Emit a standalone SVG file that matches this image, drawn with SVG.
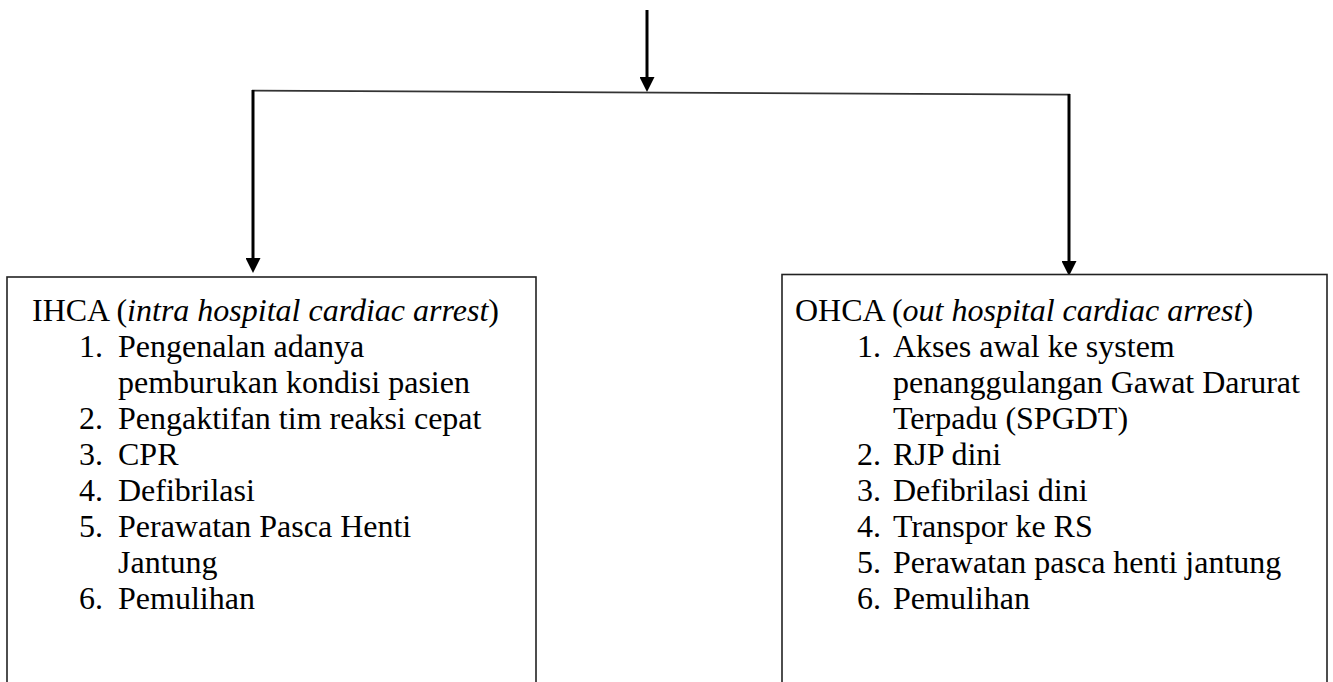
<svg xmlns="http://www.w3.org/2000/svg" width="1333" height="682" viewBox="0 0 1333 682">
<style>
.box{fill:#fff;stroke:#222;stroke-width:1.6}
.t{font-family:"Liberation Serif","Times New Roman",serif;font-size:32px;fill:#000}
.it{font-style:italic}
.v{stroke:#000;stroke-width:3;fill:none}
.h{stroke:#333;stroke-width:1.7;fill:none}
</style>
<defs>
<marker id="ah" markerUnits="userSpaceOnUse" markerWidth="15" markerHeight="15" refX="0" refY="7.5" orient="auto">
<path d="M0,0 L15,7.5 L0,15 z" fill="#000"/>
</marker>
</defs>
<g id="connectors">
<line class="v" x1="647" y1="10" x2="647" y2="77" marker-end="url(#ah)"/>
<line class="h" x1="252" y1="90.7" x2="1070" y2="94.7"/>
<line class="v" x1="253" y1="90" x2="253" y2="258" marker-end="url(#ah)"/>
<line class="v" x1="1069" y1="94" x2="1069" y2="261" marker-end="url(#ah)"/>
</g>
<g id="ihca">
<rect class="box" x="7" y="277" width="529" height="430"/>
<g class="t">
<text x="32" y="321">IHCA (<tspan class="it">intra hospital cardiac arrest</tspan>)</text>
<text x="79" y="357">1.</text><text x="118" y="357">Pengenalan adanya</text>
<text x="118" y="393">pemburukan kondisi pasien</text>
<text x="79" y="429">2.</text><text x="118" y="429">Pengaktifan tim reaksi cepat</text>
<text x="79" y="465">3.</text><text x="118" y="465">CPR</text>
<text x="79" y="501">4.</text><text x="118" y="501">Defibrilasi</text>
<text x="79" y="537">5.</text><text x="118" y="537">Perawatan Pasca Henti</text>
<text x="118" y="573">Jantung</text>
<text x="79" y="609">6.</text><text x="118" y="609">Pemulihan</text>
</g>
</g>
<g id="ohca">
<rect class="box" x="782" y="274.5" width="545" height="430"/>
<g class="t">
<text x="795" y="321">OHCA (<tspan class="it">out hospital cardiac arrest</tspan>)</text>
<text x="857" y="357">1.</text><text x="893" y="357">Akses awal ke system</text>
<text x="893" y="393">penanggulangan Gawat Darurat</text>
<text x="893" y="429">Terpadu (SPGDT)</text>
<text x="857" y="465">2.</text><text x="893" y="465">RJP dini</text>
<text x="857" y="501">3.</text><text x="893" y="501">Defibrilasi dini</text>
<text x="857" y="537">4.</text><text x="893" y="537">Transpor ke RS</text>
<text x="857" y="573">5.</text><text x="893" y="573">Perawatan pasca henti jantung</text>
<text x="857" y="609">6.</text><text x="893" y="609">Pemulihan</text>
</g>
</g>
</svg>
